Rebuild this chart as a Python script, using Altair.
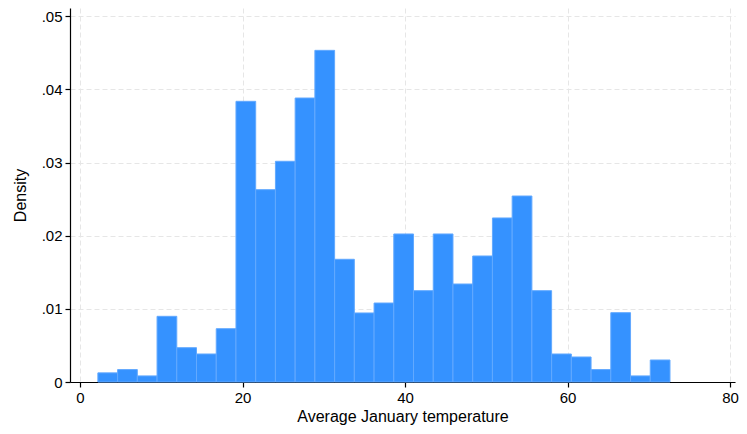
import altair as alt
import pandas as pd

# Bin edges (Average January temperature) and bar heights (density)
bin_start = [2.2, 4.628, 7.055, 9.483, 11.910, 14.338, 16.766, 19.193, 21.621,
             24.048, 26.476, 28.903, 31.331, 33.759, 36.186, 38.614, 41.041,
             43.469, 45.897, 48.324, 50.752, 53.179, 55.607, 58.034, 60.462,
             62.890, 65.317, 67.745, 70.172]
bin_end = [4.628, 7.055, 9.483, 11.910, 14.338, 16.766, 19.193, 21.621, 24.048,
           26.476, 28.903, 31.331, 33.759, 36.186, 38.614, 41.041, 43.469,
           45.897, 48.324, 50.752, 53.179, 55.607, 58.034, 60.462, 62.890,
           65.317, 67.745, 70.172, 72.6]
density = [0.00125, 0.00170, 0.00083, 0.00898, 0.00469, 0.00383, 0.00729,
           0.03838, 0.02630, 0.03018, 0.03883, 0.04535, 0.01678, 0.00944,
           0.01080, 0.02024, 0.01249, 0.02024, 0.01340, 0.01723, 0.02243,
           0.02543, 0.01249, 0.00383, 0.00342, 0.00170, 0.00948, 0.00083,
           0.00301]

x_ticks = [0, 20, 40, 60, 80]
y_ticks = [0, 0.01, 0.02, 0.03, 0.04, 0.05]

df = pd.DataFrame({"x0": bin_start, "x1": bin_end, "d": density})

FONT = "Liberation Sans"

chart = alt.Chart(df).mark_rect(
    color="#3592ff", stroke="#62a9ff", strokeWidth=1
).encode(
    x=alt.X("x0:Q", scale=alt.Scale(domain=[-1.23, 80.6], nice=False, zero=False),
            axis=alt.Axis(values=x_ticks, title="Average January temperature",
                          format="d")),
    x2="x1:Q",
    y=alt.Y("d:Q", scale=alt.Scale(domain=[0, 0.05114], nice=False),
            axis=alt.Axis(values=y_ticks, title="Density",
                          labelExpr="datum.value == 0 ? '0' : substring(format(datum.value, '.2f'), 1)")),
    y2=alt.datum(0),
).properties(
    width=665, height=374,
    autosize=alt.AutoSizeParams(type="none"),
    padding={"left": 62, "top": 0, "right": 4, "bottom": 44},
).configure_view(
    stroke=None
).configure_axis(
    labelFont=FONT, titleFont=FONT, labelFontSize=15, titleFontSize=16,
    labelColor="#000", titleColor="#000", titleFontWeight="normal",
    domainColor="#000", tickColor="#000", domainWidth=1.2, tickWidth=1.2,
    tickSize=5, labelPadding=3,
    grid=True, gridColor="#e6e6e6", gridDash=[5, 3], gridWidth=1,
).configure_axisY(
    labelAngle=0, titlePadding=13,
).configure_axisX(
    titlePadding=3,
)

chart.save("out.html", embed_options={"renderer": "svg", "actions": False})
